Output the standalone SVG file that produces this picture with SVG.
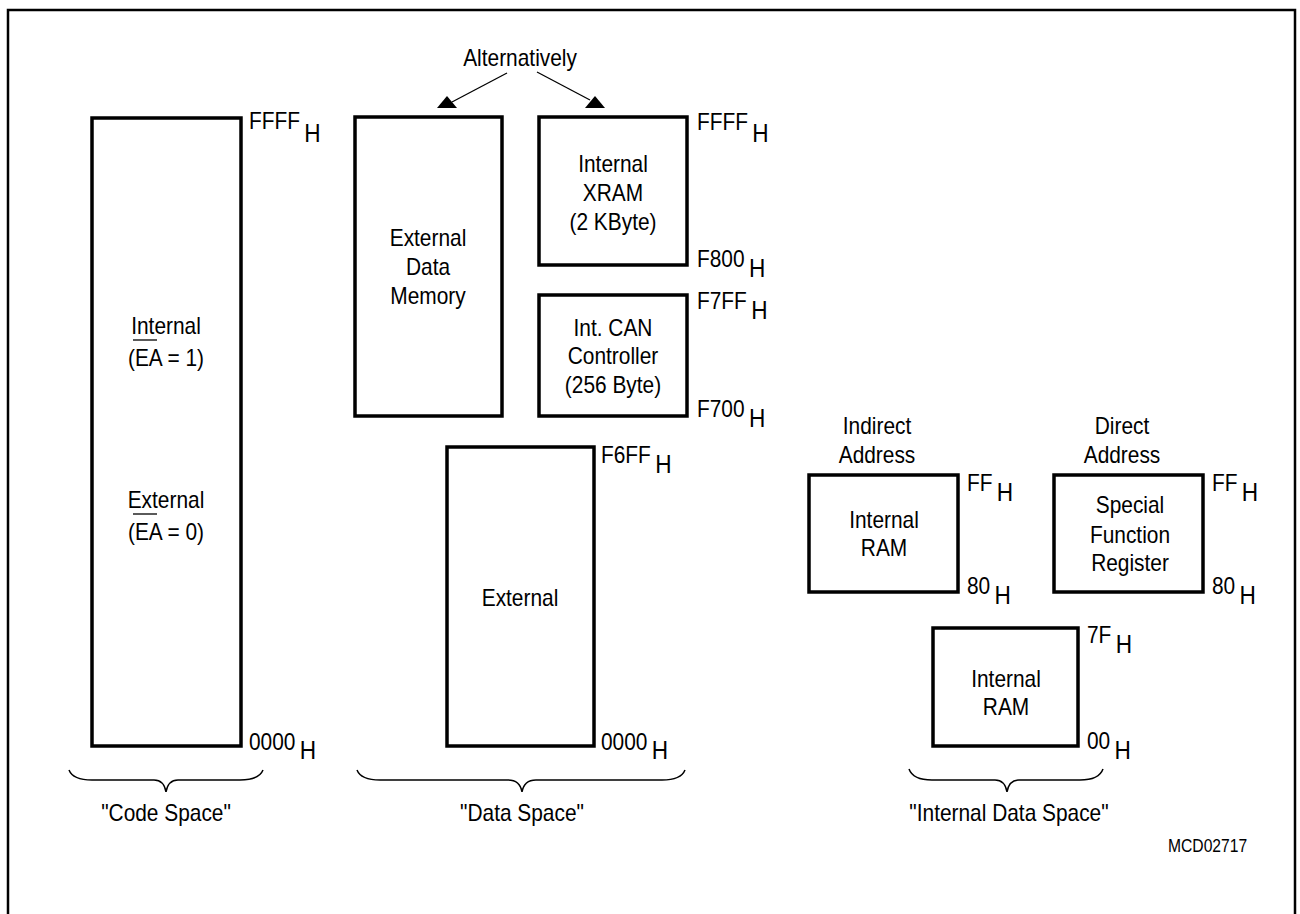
<svg xmlns="http://www.w3.org/2000/svg" width="1300" height="914" viewBox="0 0 1300 914">
<style>
text{font-family:"Liberation Sans",Arial,sans-serif;font-size:24px;fill:#000;transform-box:fill-box;}
.c{text-anchor:middle;transform-origin:center;transform:scaleX(0.87);}
.a{text-anchor:start;transform-origin:left;transform:scaleX(0.87);}
.h{font-size:26px;}
.box{fill:#fff;stroke:#000;stroke-width:3.5;}
.brace{fill:none;stroke:#000;stroke-width:1.5;}
.ln{stroke:#000;stroke-width:1.3;fill:none;}
.small{font-size:18px;}
</style>
<rect x="8" y="10" width="1287" height="915" fill="#fff" stroke="#000" stroke-width="2.5"/>

<g id="code-space">
<rect class="box" x="92" y="118" width="149" height="628"/>
<text class="c" x="166" y="334">Internal</text>
<text class="c" x="166" y="366">(EA = 1)</text>
<line class="ln" x1="133" y1="340" x2="157" y2="340"/>
<text class="c" x="166" y="508">External</text>
<text class="c" x="166" y="540">(EA = 0)</text>
<line class="ln" x1="133" y1="514" x2="157" y2="514"/>
<text class="a" x="249" y="129">FFFF<tspan class="h" dx="5" dy="13">H</tspan></text>
<text class="a" x="249" y="750">0000<tspan class="h" dx="5" dy="9">H</tspan></text>
</g>

<g id="ext-data-memory">
<rect class="box" x="355" y="117" width="147" height="299"/>
<text class="c" x="428" y="246">External</text>
<text class="c" x="428" y="275">Data</text>
<text class="c" x="428" y="304">Memory</text>
</g>

<g id="internal-xram">
<rect class="box" x="539" y="117" width="148" height="148"/>
<text class="c" x="613" y="172">Internal</text>
<text class="c" x="613" y="201">XRAM</text>
<text class="c" x="613" y="230">(2 KByte)</text>
<text class="a" x="697" y="130">FFFF<tspan class="h" dx="5" dy="12">H</tspan></text>
<text class="a" x="697" y="267">F800<tspan class="h" dx="5" dy="10">H</tspan></text>
</g>

<g id="can-controller">
<rect class="box" x="539" y="295" width="148" height="121"/>
<text class="c" x="613" y="336">Int. CAN</text>
<text class="c" x="613" y="364">Controller</text>
<text class="c" x="613" y="393">(256 Byte)</text>
<text class="a" x="697" y="309">F7FF<tspan class="h" dx="5" dy="10">H</tspan></text>
<text class="a" x="697" y="417">F700<tspan class="h" dx="5" dy="10">H</tspan></text>
</g>

<g id="external">
<rect class="box" x="447" y="447" width="147" height="299"/>
<text class="c" x="520" y="606">External</text>
<text class="a" x="601" y="463">F6FF<tspan class="h" dx="5" dy="10">H</tspan></text>
<text class="a" x="601" y="750">0000<tspan class="h" dx="5" dy="9">H</tspan></text>
</g>

<g id="indirect-ram">
<text class="c" x="877" y="434">Indirect</text>
<text class="c" x="877" y="463">Address</text>
<rect class="box" x="809" y="475" width="149" height="117"/>
<text class="c" x="884" y="528">Internal</text>
<text class="c" x="884" y="556">RAM</text>
<text class="a" x="967" y="491">FF<tspan class="h" dx="5" dy="10">H</tspan></text>
<text class="a" x="967" y="594">80<tspan class="h" dx="5" dy="10">H</tspan></text>
</g>

<g id="sfr">
<text class="c" x="1122" y="434">Direct</text>
<text class="c" x="1122" y="463">Address</text>
<rect class="box" x="1054" y="475" width="149" height="117"/>
<text class="c" x="1130" y="513">Special</text>
<text class="c" x="1130" y="543">Function</text>
<text class="c" x="1130" y="571">Register</text>
<text class="a" x="1212" y="491">FF<tspan class="h" dx="5" dy="10">H</tspan></text>
<text class="a" x="1212" y="594">80<tspan class="h" dx="5" dy="10">H</tspan></text>
</g>

<g id="lower-ram">
<rect class="box" x="933" y="628" width="145" height="118"/>
<text class="c" x="1006" y="687">Internal</text>
<text class="c" x="1006" y="715">RAM</text>
<text class="a" x="1087" y="643">7F<tspan class="h" dx="5" dy="10">H</tspan></text>
<text class="a" x="1087" y="749">00<tspan class="h" dx="5" dy="10">H</tspan></text>
</g>

<g id="alternatively">
<text class="c" x="520" y="66">Alternatively</text>
</g>

<g id="connectors">
<line class="ln" x1="507" y1="73" x2="452" y2="102"/>
<polygon points="447,96 437,108 457,108" fill="#000"/>
<line class="ln" x1="537" y1="72" x2="590" y2="100"/>
<polygon points="595,96 585,108 605,108" fill="#000"/>
</g>

<g id="braces">
<path class="brace" d="M69,770 Q73,780 92,780 L154,780 Q164,780 166,792 Q168,780 178,780 L240,780 Q259,780 263,770"/>
<text class="c" x="166" y="821">"Code Space"</text>
<path class="brace" d="M357,770 Q361,780 380,780 L508,780 Q520,780 522,792 Q524,780 536,780 L662,780 Q681,780 685,770"/>
<text class="c" x="522" y="821">"Data Space"</text>
<path class="brace" d="M909,769 Q913,780 932,780 L995,780 Q1005,780 1007,792 Q1009,780 1019,780 L1080,780 Q1099,780 1103,769"/>
<text class="c" x="1009" y="821">"Internal Data Space"</text>
</g>

<text class="a small" x="1168" y="852">MCD02717</text>
</svg>
